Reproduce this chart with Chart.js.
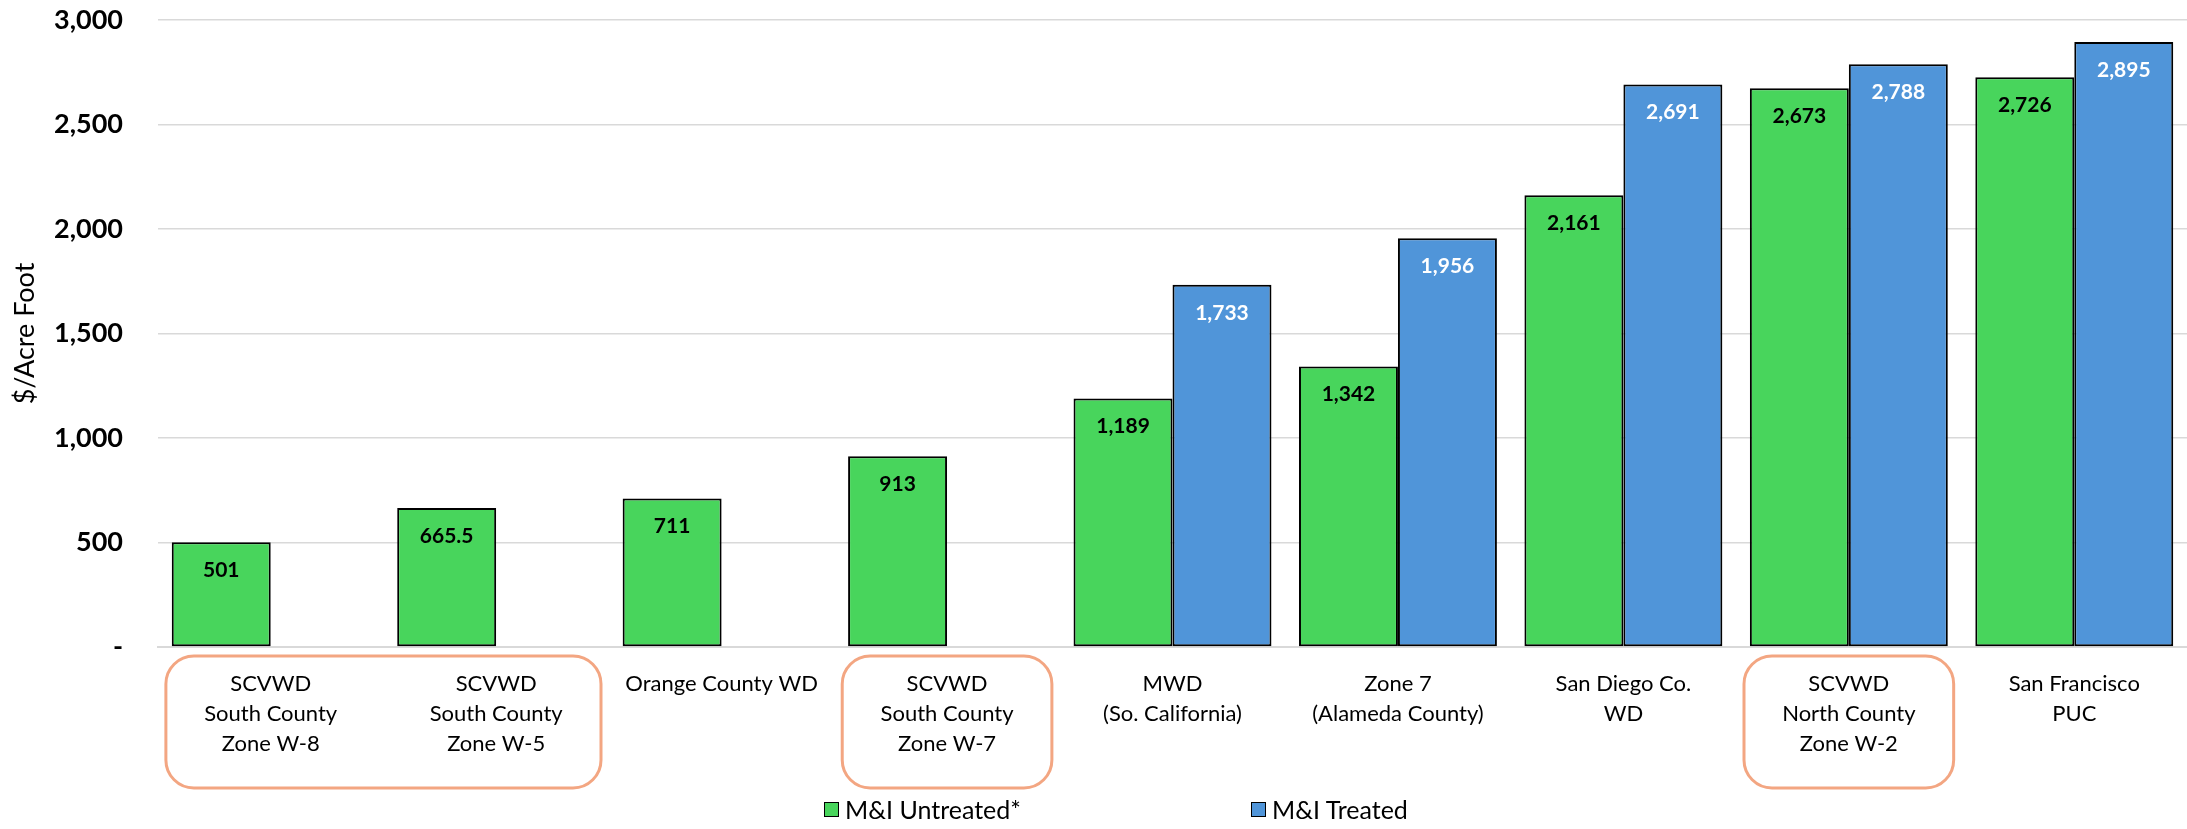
<!DOCTYPE html>
<html>
<head>
<meta charset="utf-8">
<script src="https://cdn.jsdelivr.net/npm/chart.js@4.4.1/dist/chart.umd.min.js"></script>
<style>
    html, body { margin: 0; padding: 0; background: #fff; }
    #wrap { position: relative; width: 2187px; height: 829px; }
    #legend { position: absolute; left: 824px; top: 794px; display: flex; font: 25px Lato, sans-serif; color: #000; }
    .item { display: flex; align-items: center; min-width: 427px; }
    .swatch { width: 15px; height: 15px; border: 1.5px solid #000; margin-right: 6px; box-sizing: border-box; }
</style>
</head>
<body>
<div id="wrap">
    <canvas id="rateChart" width="2187" height="829"></canvas>
    <div id="legend"></div>
</div>
<script>
const categories = [
    ['SCVWD', 'South County', 'Zone W-8'],
    ['SCVWD', 'South County', 'Zone W-5'],
    'Orange County WD',
    ['SCVWD', 'South County', 'Zone W-7'],
    ['MWD', '(So. California)'],
    ['Zone 7', '(Alameda County)'],
    ['San Diego Co.', 'WD'],
    ['SCVWD', 'North County', 'Zone W-2'],
    ['San Francisco', 'PUC']
];
const seriesNames = ['M&I Untreated*', 'M&I Treated'];
const untreated = [501, 665.5, 711, 913, 1189, 1342, 2161, 2673, 2726];
const treated = [null, null, null, null, 1733, 1956, 2691, 2788, 2895];
const yTicks = [0, 500, 1000, 1500, 2000, 2500, 3000];
// categories wrapped in the orange rounded boxes
const highlightGroups = [[0, 1], [3], [7]];

const barColors = ['#48D55C', '#5095D9'];
const labelColors = ['#000', '#fff'];

function fmt(v) {
    return v.toLocaleString('en-US', { maximumFractionDigits: 1 });
}

const valueLabels = {
    id: 'valueLabels',
    afterDatasetsDraw(chart) {
        const ctx = chart.ctx;
        chart.data.datasets.forEach((ds, i) => {
            const meta = chart.getDatasetMeta(i);
            meta.data.forEach((bar, j) => {
                const v = ds.data[j];
                if (v == null) return;
                ctx.save();
                ctx.font = 'bold 21px Lato, sans-serif';
                ctx.fillStyle = labelColors[i];
                ctx.textAlign = 'center';
                ctx.textBaseline = 'middle';
                ctx.fillText(fmt(v), bar.x, bar.y + 28);
                ctx.restore();
            });
        });
    }
};

const highlightBoxes = {
    id: 'highlightBoxes',
    afterDraw(chart) {
        const ctx = chart.ctx;
        const x = chart.scales.x;
        const cw = x.width / categories.length;
        ctx.save();
        ctx.strokeStyle = '#F3A682';
        ctx.lineWidth = 3;
        for (const g of highlightGroups) {
            const l = x.getPixelForValue(g[0]) - cw * 0.465;
            const r = x.getPixelForValue(g[g.length - 1]) + cw * 0.465;
            ctx.beginPath();
            ctx.roundRect(l, x.top + 9, r - l, 132, 28);
            ctx.stroke();
        }
        ctx.restore();
    }
};

const legendEl = document.getElementById('legend');
seriesNames.forEach((name, i) => {
    const item = document.createElement('div');
    item.className = 'item';
    item.innerHTML = `<span class="swatch" style="background:${barColors[i]}"></span><span></span>`;
    item.lastChild.textContent = name;
    legendEl.appendChild(item);
});

new Chart(document.getElementById('rateChart').getContext('2d'), {
    type: 'bar',
    data: {
        labels: categories,
        datasets: [untreated, treated].map((data, i) => ({
            label: seriesNames[i],
            data,
            backgroundColor: barColors[i],
            borderColor: '#000',
            borderWidth: 2,
            borderSkipped: false,
            categoryPercentage: 0.878,
            barPercentage: 1
        }))
    },
    options: {
        responsive: false,
        animation: false,
        layout: { padding: { top: 20, right: 0, left: 0, bottom: 0 } },
        plugins: { legend: { display: false }, tooltip: { enabled: false } },
        scales: {
            x: {
                grid: { display: false },
                border: { color: '#d9d9d9', width: 2 },
                ticks: {
                    color: '#000',
                    font: { family: 'Lato', size: 22, lineHeight: 1.36 },
                    padding: 14,
                    maxRotation: 0,
                    autoSkip: false
                },
                afterFit(scale) { scale.height = 182; }
            },
            y: {
                min: 0,
                max: 3000,
                border: { display: false },
                // invisible ticks give the gap between labels and plot
                grid: { color: '#d9d9d9', lineWidth: 1.5, drawTicks: true, tickLength: 35, tickColor: 'rgba(0,0,0,0)' },
                afterBuildTicks(scale) { scale.ticks = yTicks.map(v => ({ value: v })); },
                title: {
                    display: true,
                    text: '$/Acre Foot',
                    color: '#000',
                    font: { family: 'Lato', size: 27 },
                    padding: { top: 9, bottom: 0 }
                },
                ticks: {
                    color: '#000',
                    font: { family: 'Lato', size: 27, weight: 'bold' },
                    padding: 0,
                    callback: v => v === 0 ? '-' : v.toLocaleString('en-US')
                },
                afterFit(scale) { scale.width = 158; }
            }
        }
    },
    plugins: [valueLabels, highlightBoxes]
});
</script>
</body>
</html>
